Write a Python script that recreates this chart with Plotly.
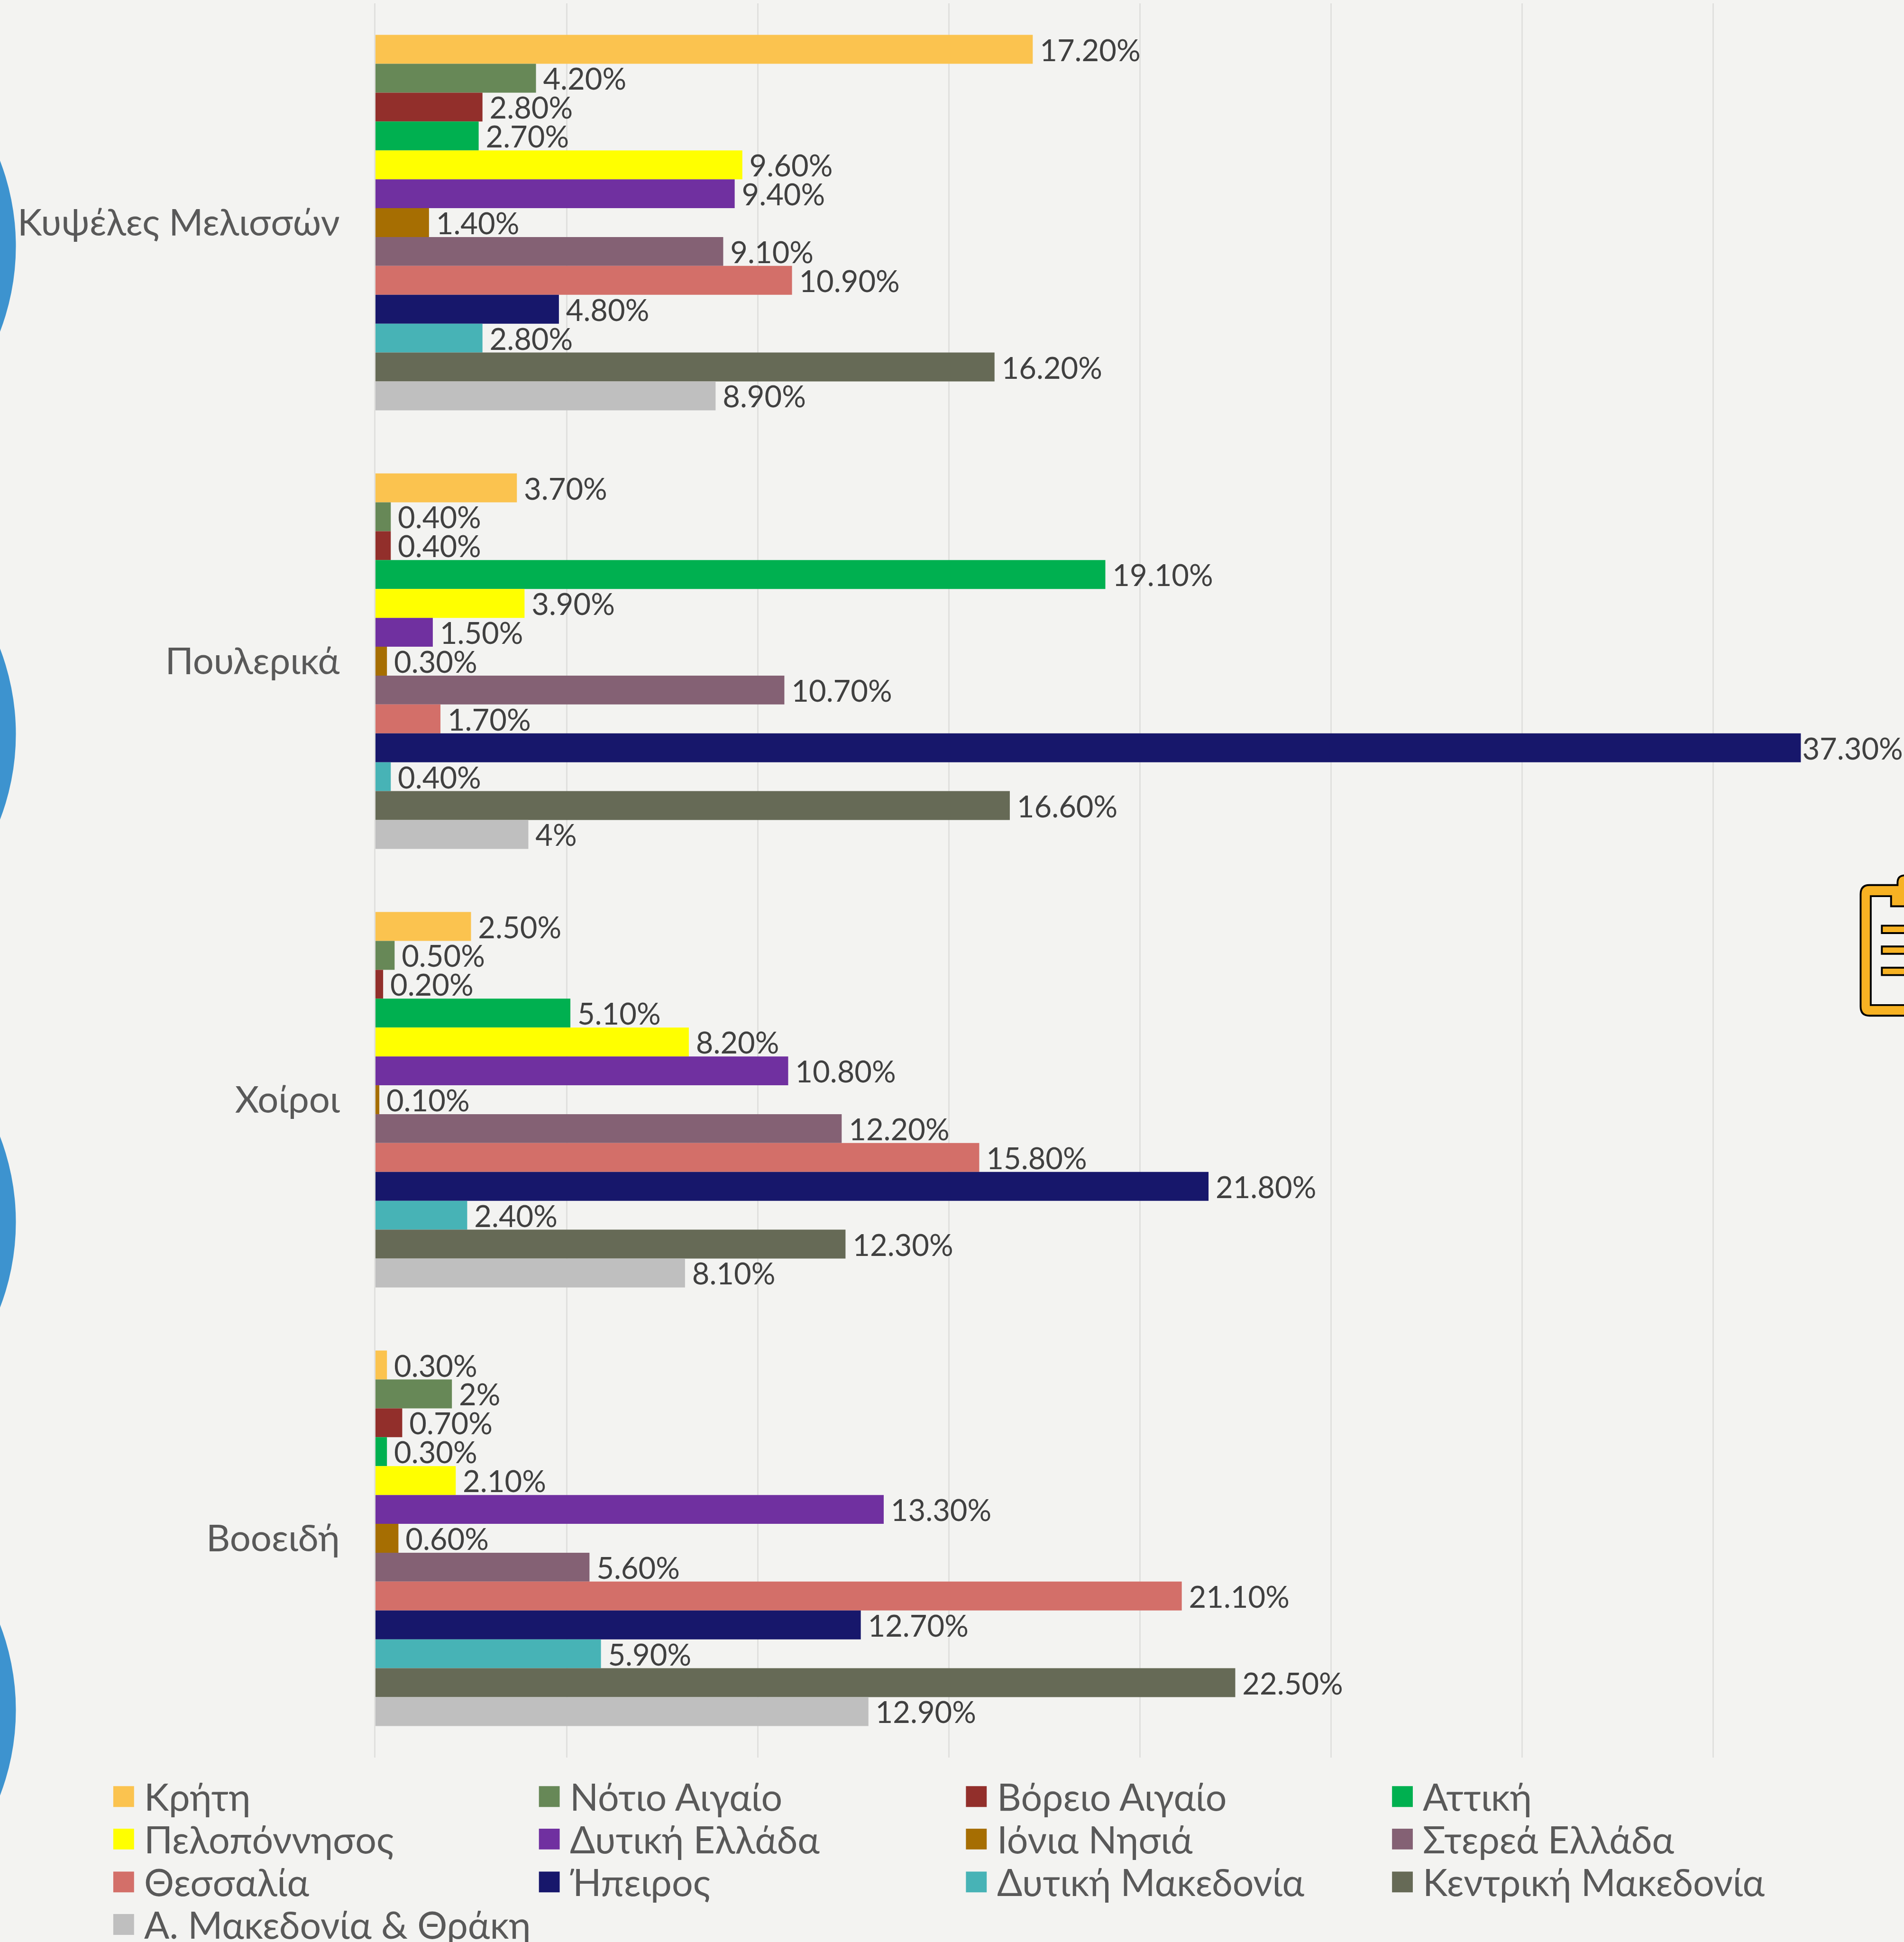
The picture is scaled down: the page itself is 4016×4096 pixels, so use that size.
import plotly.graph_objects as go

categories = ["Κυψέλες Μελισσών", "Πουλερικά", "Χοίροι", "Βοοειδή"]
regions = ["Κρήτη", "Νότιο Αιγαίο", "Βόρειο Αιγαίο", "Αττική", "Πελοπόννησος", "Δυτική Ελλάδα",
           "Ιόνια Νησιά", "Στερεά Ελλάδα", "Θεσσαλία", "Ήπειρος", "Δυτική Μακεδονία",
           "Κεντρική Μακεδονία", "Α. Μακεδονία & Θράκη"]
colors = ["#FBC34F", "#678857", "#922F2B", "#00B050", "#FFFF00", "#7030A0", "#A66E02",
          "#846174", "#D36F69", "#17176B", "#47B3B6", "#666A56", "#BFBFBF"]
kypseles = [17.2, 4.2, 2.8, 2.7, 9.6, 9.4, 1.4, 9.1, 10.9, 4.8, 2.8, 16.2, 8.9]
poulerika = [3.7, 0.4, 0.4, 19.1, 3.9, 1.5, 0.3, 10.7, 1.7, 37.3, 0.4, 16.6, 4]
choiroi = [2.5, 0.5, 0.2, 5.1, 8.2, 10.8, 0.1, 12.2, 15.8, 21.8, 2.4, 12.3, 8.1]
booeidi = [0.3, 2, 0.7, 0.3, 2.1, 13.3, 0.6, 5.6, 21.1, 12.7, 5.9, 22.5, 12.9]
grid_ticks = [0, 5, 10, 15, 20, 25, 30, 35, 40]

W, H = 4016, 4096
S = W / 4125
L, R, T, B = 814, 4125, 7, 3807   # plot box in reference pixels
BG = "#F3F3F1"
FONT = "Lato, 'Noto Sans', sans-serif"


def px(x):
    return (x - L) / (R - L)


def py(y):
    return (B - y) / (B - T)


def label(v):
    txt = f"{v:g}%" if float(v).is_integer() else f"{v:.2f}%"
    return txt if v > 35 else "\u2009\u200a" + txt


fig = go.Figure()
rows = [kypseles, poulerika, choiroi, booeidi]
for i, name in enumerate(regions):
    vals = [r[i] for r in rows]
    fig.add_bar(y=categories, x=vals, name=name, orientation="h", marker=dict(color=colors[i], line_width=0),
                text=[label(v) for v in vals], textposition="outside", cliponaxis=False, constraintext="none",
                textfont=dict(family=FONT, size=65 * S, color="#404040"), showlegend=False)

shapes = []
# decorative circles at the left edge
for cy in [533, 1590, 2647, 3704]:
    shapes.append(dict(type="circle", xref="paper", yref="paper", layer="below",
                       x0=px(-999), x1=px(35), y0=py(cy - 517), y1=py(cy + 517),
                       fillcolor="#3D93CF", line_width=0))


def P(x, y):
    return f"{px(x):.5f},{py(y):.5f}"


# clipboard icon (cut by the right edge)
outer = ("M" + P(4200, 1917) + " L" + P(4200, 2200) + " L" + P(4050, 2200) + " Q" + P(4031, 2200) + " " + P(4031, 2180)
         + " L" + P(4031, 1937) + " Q" + P(4031, 1917) + " " + P(4050, 1917) + " L" + P(4111, 1917) + " L" + P(4111, 1912)
         + " Q" + P(4111, 1896) + " " + P(4127, 1896) + " L" + P(4200, 1896) + " Z")
inner = ("M" + P(4053, 1941) + " L" + P(4097, 1941) + " L" + P(4097, 1963) + " L" + P(4200, 1963) + " L" + P(4200, 2177)
         + " L" + P(4053, 2177) + " Z")
shapes.append(dict(type="path", xref="paper", yref="paper", path=outer, fillcolor="#F7B223", line=dict(color="#000000", width=4 * S)))
shapes.append(dict(type="path", xref="paper", yref="paper", path=inner, fillcolor=BG, line=dict(color="#000000", width=4 * S)))
for y0 in [2005, 2050, 2096]:
    shapes.append(dict(type="rect", xref="paper", yref="paper", x0=px(4077), x1=px(4200), y0=py(y0), y1=py(y0 + 16),
                       fillcolor="#F7B223", line=dict(color="#000000", width=4 * S)))

# legend grid
col_x = [246, 1168, 2093, 3016]
row_y = [3869, 3961, 4054, 4146]
annotations = []
for i, name in enumerate(regions):
    c, r = i % 4, i // 4
    x, y = col_x[c], row_y[r]
    shapes.append(dict(type="rect", xref="paper", yref="paper", x0=px(x), x1=px(x + 45), y0=py(y), y1=py(y + 45),
                       fillcolor=colors[i], line_width=0))
    annotations.append(dict(xref="paper", yref="paper", x=px(x + 65), y=py(y + 22), text=name, showarrow=False,
                            xanchor="left", yanchor="middle", font=dict(family=FONT, size=81 * S, color="#595959")))

fig.update_layout(
    width=W, height=H, autosize=False, barmode="group", bargap=0.144, bargroupgap=0,
    paper_bgcolor=BG, plot_bgcolor=BG,
    margin=dict(l=L * S, r=0, t=T * S, b=(4207 - B) * S, pad=0, autoexpand=False),
    xaxis=dict(range=[0, 40], tickvals=grid_ticks, showticklabels=False, showgrid=True, gridcolor="#E0E0DE",
               gridwidth=2.5, zeroline=False, showline=False, ticks=""),
    yaxis=dict(type="category", categoryorder="array", categoryarray=categories, autorange="reversed", showgrid=False,
               zeroline=False, showline=True, linecolor="#E0E0DE", linewidth=2.5, ticks="", ticklabelstandoff=int(59 * S),
               tickfont=dict(family=FONT, size=80 * S, color="#595959")),
    shapes=shapes, annotations=annotations,
)
fig.write_html("out.html", config={"displayModeBar": False}, post_script="document.body.style.margin='0';")
